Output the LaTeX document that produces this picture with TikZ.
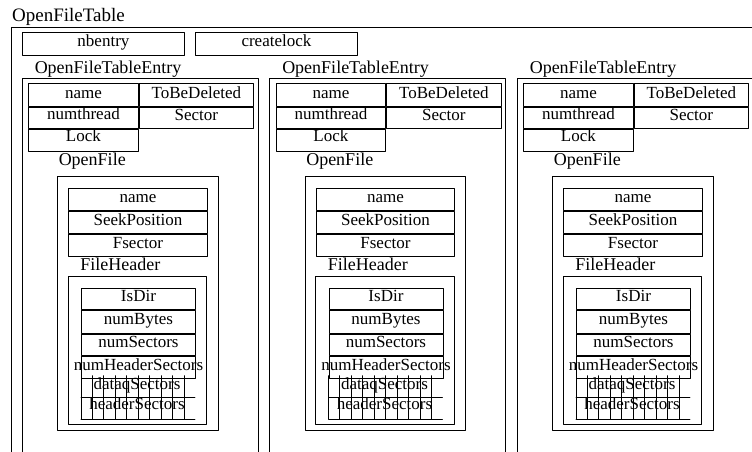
\documentclass[tikz,border=0pt]{standalone}
\usepackage{fontspec}
\setmainfont{Liberation Serif}
\usetikzlibrary{positioning}
\tikzset{
  field/.style={draw, anchor=north west, inner sep=0pt, text height=0.75em, text depth=0.15em,
    font=\fontsize{17}{20}\selectfont},
  raised/.style={text depth=0.45em},
  cell/.style={inner sep=0pt, text height=0.75em, text depth=0.15em, font=\fontsize{17}{20}\selectfont},
  caption/.style={anchor=base west, inner sep=0pt, font=\fontsize{18}{21}\selectfont},
}

\begin{document}
\begin{tikzpicture}[line cap=round,line join=round, line width=0.9pt, x=1pt, y=-1pt]
\useasboundingbox (0,0) rectangle (752,452);
\clip (0,0) rectangle (752,452);
% the table
\node[caption, font=\fontsize{19}{22}\selectfont] (table) at (11.7,22) {OpenFileTable};
\draw (11,27) rectangle (800,500);
\node[field, minimum width=162, minimum height=23] (nbentry) at (22,32) {nbentry};
\node[field, minimum width=162, minimum height=23] (createlock) at (195,32) {createlock};
% one entry per column
\foreach \k [evaluate=\k as \dx using 247.5*\k] in {0,1,2}{
\begin{scope}[xshift=\dx]
\node[caption] (entry\k) at (34.3,74) {OpenFileTableEntry};
\draw (22,78) rectangle (258,500);
\node[field, minimum width=109.4, minimum height=22.7] (name\k) at (28.3,83.3) {name};
\node[field, minimum width=114.6, minimum height=22.7, right=0pt of name\k] (del\k) {ToBeDeleted};
\node[field, raised, minimum width=109.4, minimum height=21, below=0pt of name\k] (thread\k) {numthread};
\node[field, minimum width=114.6, minimum height=21, below=0pt of del\k] (sector\k) {Sector};
\node[field, raised, minimum width=109.4, minimum height=22.3, below=0pt of thread\k] (lock\k) {Lock};
% open file
\node[caption] (openfile\k) at (58.3,165.7) {OpenFile};
\draw (57.7,176.7) rectangle (218.3,430.7);
\node[field, minimum width=138.4, minimum height=21.7] (fname\k) at (68.3,188.3) {name};
\node[field, minimum width=138.4, minimum height=22.3, below=0pt of fname\k] (seek\k) {SeekPosition};
\node[field, minimum width=138.4, minimum height=22, below=0pt of seek\k] (fsector\k) {Fsector};
% file header
\node[caption] (header\k) at (80,270.7) {FileHeader};
\draw (68.3,276.7) rectangle (206.7,424);
\node[field, minimum width=114, minimum height=21.6] (isdir\k) at (81,287.7) {IsDir};
\node[field, minimum width=114, minimum height=22.4, below=0pt of isdir\k] (bytes\k) {numBytes};
\node[field, minimum width=114, minimum height=21.6, below=0pt of bytes\k] (sectors\k) {numSectors};
\node[field, minimum width=114, minimum height=22.4, below=0pt of sectors\k] (hsectors\k) {\makebox[0pt]{numHeaderSectors}};
\foreach \i in {0,...,9}
  \draw (81+11.44*\i,375.7) -- (81+11.44*\i,419);
\draw (81,397.7) -- (195,397.7) (81,419) -- (195,419);
\node[cell] (data\k) at (137,386.7) {dataqSectors};
\node[cell, raised] (hdr\k) at (137,408.3) {headerSectors};
\end{scope}
}
\end{tikzpicture}
\end{document}
